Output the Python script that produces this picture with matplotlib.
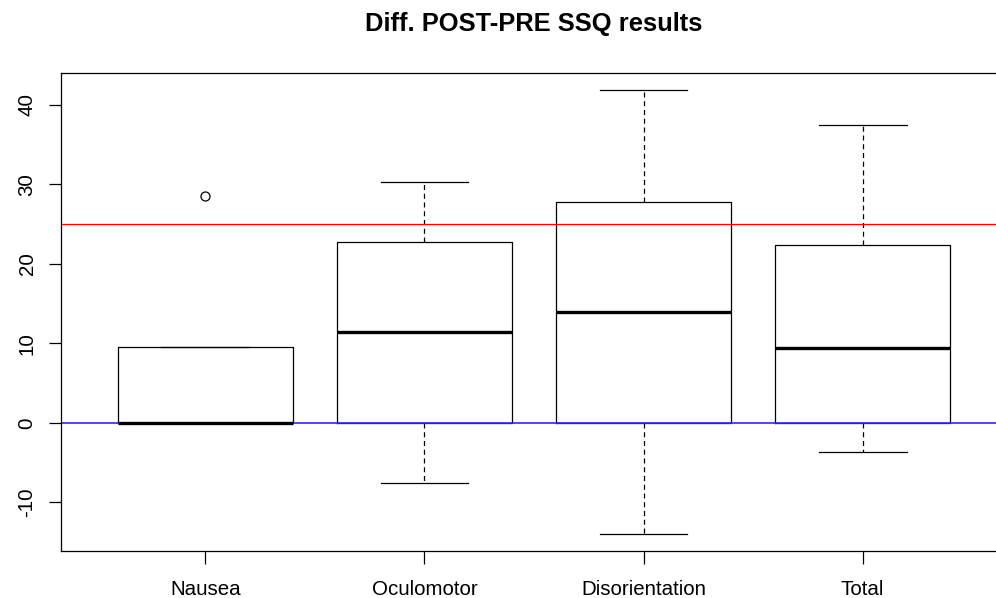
import matplotlib
matplotlib.use("Agg")
import matplotlib.pyplot as plt

plt.rcParams["font.family"] = ["Liberation Sans", "DejaVu Sans"]
plt.rcParams["axes.unicode_minus"] = False

categorias = ["Nausea", "Oculomotor", "Disorientation", "Total"]
bajo = [0.0, -7.6, -13.9, -3.7]
q1 = [0.0, 0.0, 0.0, 0.0]
mediana = [0.0, 11.4, 13.9, 9.4]
q3 = [9.6, 22.7, 27.8, 22.4]
alto = [9.6, 30.3, 41.8, 37.4]
atipicos = [[28.5], [], [], []]
umbral = 25

stats = []
for i in range(len(categorias)):
    stats.append({
        "label": categorias[i],
        "whislo": bajo[i], "q1": q1[i], "med": mediana[i],
        "q3": q3[i], "whishi": alto[i], "fliers": atipicos[i],
    })

fig = plt.figure(figsize=(9.96, 5.98), dpi=100)
ax = fig.add_axes([60.7 / 996, 1 - 551 / 598, (1007.3 - 60.7) / 996, (551 - 73) / 598])

ax.bxp(stats, positions=[1, 2, 3, 4], widths=0.8, capwidths=0.4,
       boxprops=dict(color="black", linewidth=0.9),
       whiskerprops=dict(color="black", linewidth=0.9, linestyle=(0, (4, 3))),
       capprops=dict(color="black", linewidth=0.9),
       medianprops=dict(color="black", linewidth=2.4, solid_capstyle="butt"),
       flierprops=dict(marker="o", markerfacecolor="none", markeredgecolor="black",
                       markersize=6.5, markeredgewidth=0.9))

ax.axhline(umbral, color="#FF0000", linewidth=0.9)
ax.axhline(0, color="#2a2aff", linewidth=1.2)

ax.set_xlim(0.34, 4.66)
ax.set_ylim(-16.1, 44.0)
ax.set_yticks([-10, 0, 10, 20, 30, 40])
ax.set_xticks([1, 2, 3, 4])
ax.set_xticklabels(categorias)
ax.tick_params(axis="both", length=9, width=0.9, labelsize=14.8)
ax.tick_params(axis="x", pad=12)
ax.tick_params(axis="y", pad=8.4)
for lab in ax.get_yticklabels():
    lab.set_rotation(90)
    lab.set_va("center")
for s in ax.spines.values():
    s.set_linewidth(0.9)

fig.text(534 / 996, 1 - 31 / 598, "Diff. POST-PRE SSQ results",
         ha="center", va="baseline", fontsize=18.4, fontweight="bold")

fig.savefig("out.png", dpi=100)
